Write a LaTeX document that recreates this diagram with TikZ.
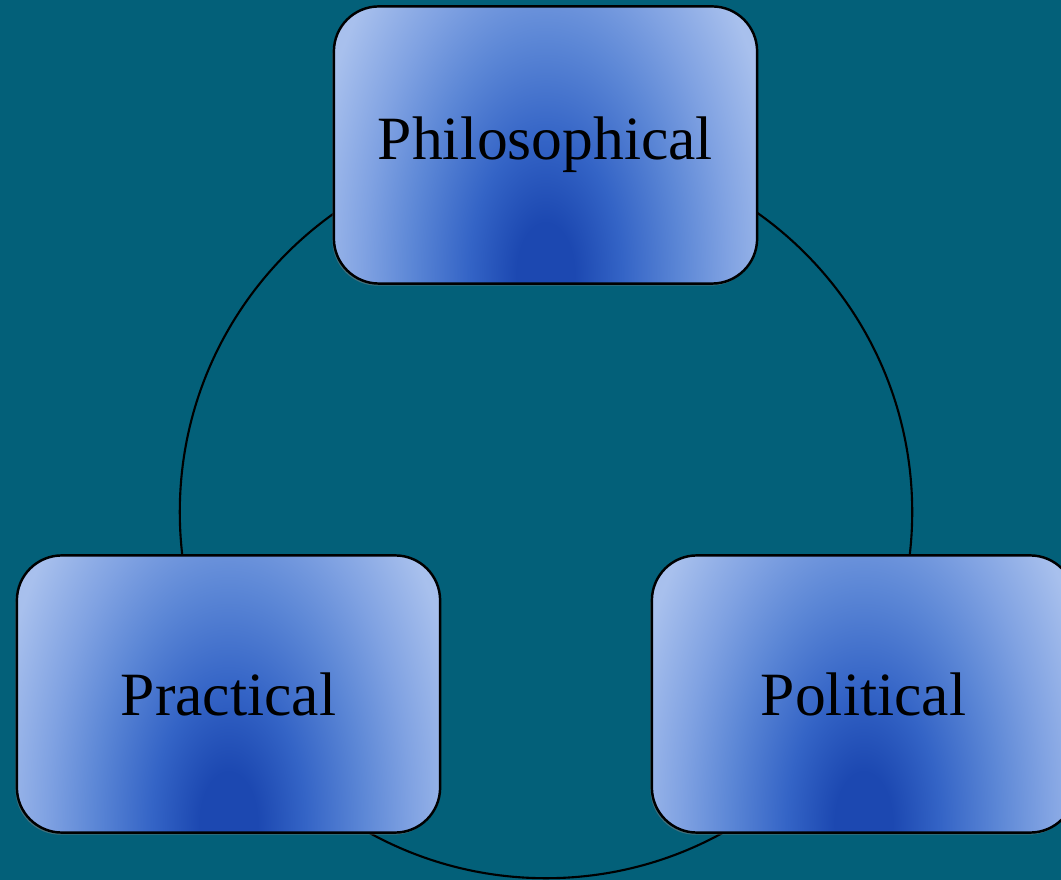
\documentclass[tikz,border=0pt]{standalone}
\usepackage{fontspec}
\setmainfont{Liberation Serif}
\usetikzlibrary{shadows}

\definecolor{pagebg}{RGB}{3,96,121}
\definecolor{glowdk}{RGB}{28,72,177}
\definecolor{glowmd}{RGB}{52,100,198}
\definecolor{glowmid}{RGB}{92,135,214}
\definecolor{glowhi}{RGB}{128,162,226}
\definecolor{glowlt}{RGB}{168,192,237}

\pgfdeclareradialshading{boxglow}{\pgfpoint{0bp}{0bp}}{%
  color(0bp)=(glowdk); color(3bp)=(glowdk); color(8bp)=(glowmd);
  color(14bp)=(glowmid); color(19bp)=(glowhi); color(25bp)=(glowlt);
  color(50bp)=(glowlt)}

\begin{document}
\begin{tikzpicture}[x=0.01cm, y=-0.01cm,
    box/.style={draw=black, line width=0.7pt, fill=glowlt,
      rounded corners=0.45cm, minimum width=4.23cm, minimum height=2.77cm,
      font=\fontsize{17.5}{21}\selectfont,
      drop shadow={shadow xshift=-0.4pt, shadow yshift=-0.6pt, opacity=0.5},
      path picture={\shade[shading=boxglow]
        ([yshift=0.1cm]path picture bounding box.south) ellipse (2.4cm and 4.2cm);}}]
  % Background
  \fill[pagebg] (0,0) rectangle (1061,880);
  \clip (0,0) rectangle (1061,880);

  % Ring behind the boxes
  \coordinate (ring) at (546,512);
  \draw[line width=0.6pt] (ring) circle (3.66cm);

  % Boxes
  \node[box] (philo) at (545.5,145) {Philosophical};
  \node[box] (pract) at (228.5,694) {Practical};
  \node[box] (polit) at (863.5,694) {Political};
\end{tikzpicture}
\end{document}
